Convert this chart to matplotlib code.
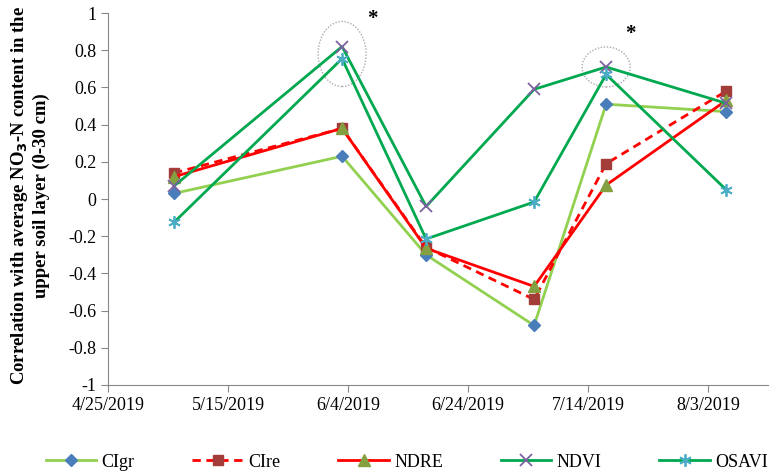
import datetime as dt
import matplotlib
matplotlib.use("Agg")
import matplotlib.pyplot as plt
import matplotlib.dates as mdates
from matplotlib.patches import Ellipse
from matplotlib.ticker import FuncFormatter

# dates d'acquisition et correlations
dates = [dt.date(2019, 5, 6), dt.date(2019, 6, 3), dt.date(2019, 6, 17),
         dt.date(2019, 7, 5), dt.date(2019, 7, 17), dt.date(2019, 8, 6)]
cigr = [0.03, 0.23, -0.30, -0.68, 0.51, 0.47]
cire = [0.14, 0.38, -0.26, -0.54, 0.19, 0.58]
ndre = [0.12, 0.38, -0.265, -0.47, 0.075, 0.53]
ndvi = [0.07, 0.82, -0.04, 0.59, 0.71, 0.515]
osavi = [-0.125, 0.755, -0.215, -0.016, 0.67, 0.05]

yticks = [1, 0.8, 0.6, 0.4, 0.2, 0, -0.2, -0.4, -0.6, -0.8, -1]
xticks = [dt.date(2019, 4, 25) + dt.timedelta(days=20 * i) for i in range(6)]

plt.rcParams["font.family"] = ["Liberation Serif", "DejaVu Serif"]

fig = plt.figure(figsize=(7.84, 4.75), dpi=100)
ax = fig.add_axes([0.1378, 0.1895, 0.842, 0.783])

ax.plot(dates, cigr, color="#92D050", lw=2, marker="D", ms=6,
        mfc="#4A7EBB", mec="#4A7EBB", label="CIgr")
ax.plot(dates, cire, color="#FF0000", lw=2, ls=(0, (3, 2)), marker="s", ms=7,
        mfc="#A33D3A", mec="#A33D3A", label="CIre")
ax.plot(dates, ndre, color="#FF0000", lw=2, marker="^", ms=8,
        mfc="#84A040", mec="#84A040", label="NDRE")
ax.plot(dates, ndvi, color="#00A84F", lw=2, marker="x", ms=8, mew=1.3,
        mec="#7D60A0", label="NDVI")
ax.plot(dates, osavi, color="#00A84F", lw=2, marker=(6, 2, 0), ms=9, mew=1.3,
        mec="#4BACC6", label="OSAVI")

# cercles pointilles et asterisques (correlations significatives)
for cx, cy, w, h in [(dt.date(2019, 6, 3), 0.78, 8, 0.35),
                     (dt.date(2019, 7, 17), 0.71, 8, 0.215)]:
    ax.add_patch(Ellipse((mdates.date2num(cx), cy), w, h, fill=False,
                         ec="#AAAAAA", ls=(0, (1, 1.2)), lw=1))
ax.text(dt.date(2019, 6, 8), 0.97, "*", fontsize=15, fontweight="bold", ha="center", va="center")
ax.text(dt.date(2019, 7, 21), 0.89, "*", fontsize=15, fontweight="bold", ha="center", va="center")

ax.set_xlim(dt.date(2019, 4, 25), dt.date(2019, 8, 13))
ax.set_ylim(-1, 1)
ax.set_xticks(xticks)
ax.xaxis.set_major_formatter(FuncFormatter(
    lambda v, p: (lambda d: f"{d.month}/{d.day}/{d.year}")(mdates.num2date(v))))
ax.set_yticks(yticks)
ax.set_yticklabels([f"{v:g}" for v in yticks])
ax.tick_params(labelsize=13, color="#888888", length=5, direction="out")
for s in ["top", "right"]:
    ax.spines[s].set_visible(False)
for s in ["left", "bottom"]:
    ax.spines[s].set_color("#888888")

ax.set_ylabel("Correlation with average NO$_\\mathbf{3}$-N content in the\nupper soil layer (0-30 cm)",
              fontsize=13.5, fontweight="bold", linespacing=1.2)
ax.yaxis.set_label_coords(-0.088, 0.51)

fig.legend(loc="center", ncol=5, frameon=False, fontsize=13,
           bbox_to_anchor=(0.519, 0.027), handlelength=2.8, handletextpad=0.3,
           columnspacing=3.2)

fig.savefig("out.png", dpi=100)
